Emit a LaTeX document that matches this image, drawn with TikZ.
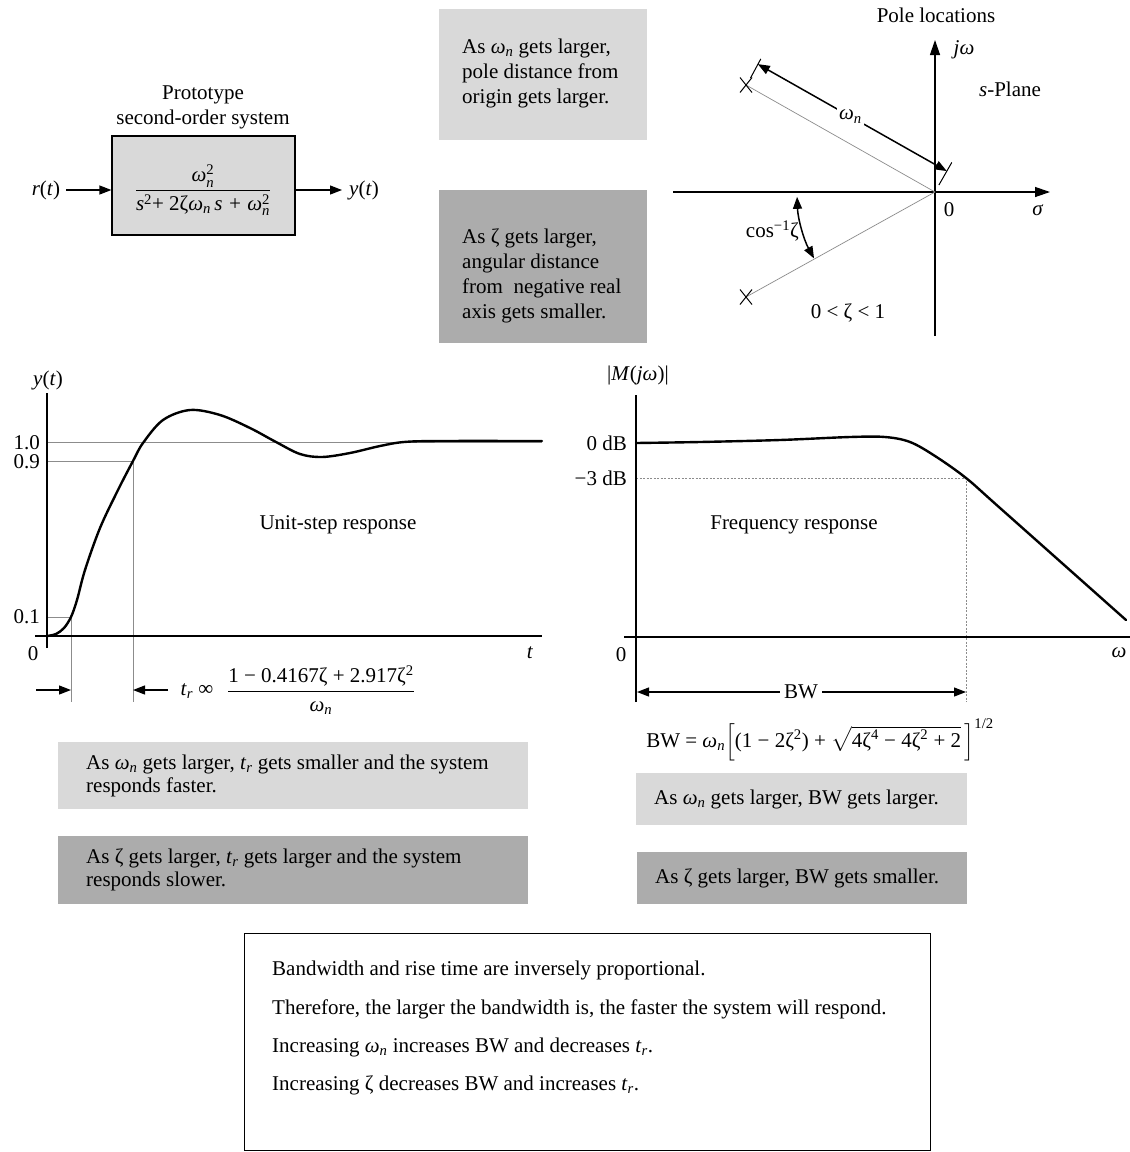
\documentclass[tikz,border=0pt]{standalone}
\usepackage{amsmath}
\usepackage{fontspec}
\setmainfont{Liberation Serif}
\usetikzlibrary{arrows.meta,calc}

\definecolor{boxlight}{RGB}{217,217,217}
\definecolor{boxdark}{RGB}{172,172,172}
\definecolor{guidegray}{RGB}{140,140,140}

% natural frequency and rise time symbols in running text
\newcommand\wn{\textit{ω}\textsubscript{\textit{n}}}
\newcommand\trise{\textit{t}\textsubscript{\textit{r}}}
\newcommand\wnsq{\text{\itshape ω}^{\text{2}}_{\text{\itshape n}}}

\begin{document}
\begin{tikzpicture}[x=1pt,y=-1pt,
  font=\fontsize{21}{25}\selectfont,
  tri/.style={-{Triangle[length=12pt,width=9pt]}},
  bitri/.style={{Triangle[length=12pt,width=9pt]}-{Triangle[length=12pt,width=9pt]}},
  axisline/.style={line width=1.3pt},
  resp/.style={line width=2.4pt,line join=round,line cap=round},
  guideline/.style={line width=0.8pt,guidegray},
  lightbox/.style={fill=boxlight,inner sep=0pt},
  darkbox/.style={fill=boxdark,inner sep=0pt},
  boxtext/.style={align=left,anchor=west,inner sep=0pt},
  lbl/.style={inner sep=1pt},
  polemark/.style={line width=1pt}]

\fill[white] (0,0) rectangle (1130,1152);
\useasboundingbox (0,0) rectangle (1130,1152);

% ---------- prototype second-order system ----------
\node[draw,line width=1.2pt,fill=boxlight,minimum width=183pt,minimum height=99pt,inner sep=0pt] (plant) at (203.5,185.5) {};
\node (tf) at (203,190) {$\dfrac{\wnsq}{\text{\itshape s}^{\text{2}}\text{+ 2ζ}\text{\itshape ω}_{\text{\itshape n}}\,\text{\itshape s + }\wnsq}$};
\node[align=center,anchor=south,inner sep=0pt] (plantcap) at (203,129) {Prototype\\second-order system};
\node[lbl] (rin) at (46,190) {\textit{r}(\textit{t})};
\node[lbl] (yout) at (364,190) {\textit{y}(\textit{t})};
\draw[line width=1.2pt,tri] ([xshift=5pt]rin.east) -- (rin.east -| plant.west);
\draw[line width=1.2pt,tri] (plant.east |- yout.west) -- ([xshift=-6pt]yout.west);

% ---------- notes on the pole locations ----------
\node[lightbox,minimum width=208pt,minimum height=131pt] (wnpole) at (543,74.5) {};
\node[boxtext] (wnpoletext) at (462,73) {As \wn{} gets larger,\\pole distance from\\origin gets larger.};
\node[darkbox,minimum width=208pt,minimum height=153pt] (zpole) at (543,266.5) {};
\node[boxtext] (zpoletext) at (462,276) {As ζ gets larger,\\angular distance\\from\ \ negative real\\axis gets smaller.};

% ---------- s-plane ----------
\coordinate (O) at (935,192);
\coordinate (sigL) at (673,192);
\coordinate (sigR) at (1050,192);
\coordinate (jwB) at (935,336);
\coordinate (jwT) at (935,40);
\coordinate (p1) at (746,85);
\coordinate (p2) at (746,297);
\draw[axisline,-{Triangle[length=15pt,width=10pt]}] (sigL) -- (sigR);
\draw[axisline,-{Triangle[length=15pt,width=10pt]}] (jwB) -- (jwT);
\node[lbl] (jwlab) at (964,50) {\textit{jω}};
\node[lbl] (splane) at (1010,89) {\textit{s}-Plane};
\node[lbl] (poleloc) at (936,15) {Pole locations};
\node[lbl] (zero) at (949,210) {0};
\node[lbl] (sigma) at (1038,210) {\textit{σ}};
\draw[guideline,line width=0.7pt] (O) -- (p1);
\draw[guideline,line width=0.7pt] (O) -- (p2);
\draw[polemark] ($(p1)+(-6,-7.5)$) -- ($(p1)+(6,7.5)$) ($(p1)+(6,-7.5)$) -- ($(p1)+(-6,7.5)$);
\draw[polemark] ($(p2)+(-6,-7.5)$) -- ($(p2)+(6,7.5)$) ($(p2)+(6,-7.5)$) -- ($(p2)+(-6,7.5)$);
% dimension line for the natural frequency
\coordinate (wnA) at (946.8,171.1);
\coordinate (wnB) at (757.8,64.1);
\draw[line width=1pt] (938.9,185.0) -- (951.8,162.4);
\draw[line width=1pt] (750.5,78.0) -- (760.8,58.9);
\draw[line width=1.5pt,bitri] (wnB) -- (wnA);
\node[fill=white,inner sep=2pt] (wnlab) at ($(wnA)!0.51!(wnB)$) {\textit{ω}\textsubscript{\textit{n}}};
% damping angle
\draw[line width=1.5pt,bitri] ([shift={(182:138pt)}]O) arc[start angle=182,end angle=208.8,radius=138pt];
\node[lbl,anchor=east] (coslab) at (800,231) {cos\textsuperscript{−1}ζ};
\node[lbl] (zrange) at (848,313) {0 < ζ < 1};

% ---------- unit-step response ----------
\coordinate (tyB) at (47,648);
\coordinate (tyT) at (47,393);
\coordinate (ttL) at (35,636);
\coordinate (ttR) at (542,636);
\draw[guideline] (47,442) -- (542,442);
\draw[guideline] (47,461) -- (133,461);
\draw[guideline] (47,617) -- (71,617);
\draw[guideline] (71,617) -- (71,702);
\draw[guideline] (133,461) -- (133,702);
\draw[axisline] (tyB) -- (tyT);
\draw[axisline] (ttL) -- (ttR);
\draw[resp] plot[smooth,tension=0.55] coordinates {(47,636) (56,634) (64,628) (71,617) (77,600) (85,570) (100,528) (118,490) (133,461) (143,443) (163,420) (190,410) (220,415) (250,428) (276,442) (300,454) (322,457) (350,453) (380,446) (404,442) (440,441) (542,441)};
\node[lbl,anchor=east] (y10) at (41,443) {1.0};
\node[lbl,anchor=east] (y09) at (41,462) {0.9};
\node[lbl,anchor=east] (y01) at (41,617) {0.1};
\node[lbl] (y00) at (33,654) {0};
\node[lbl] (ylab) at (48,380) {\textit{y}(\textit{t})};
\node[lbl] (tlab) at (530,653) {\textit{t}};
\node[lbl] (steplab) at (338,525) {Unit-step response};
\coordinate (riseA) at (71,690);
\coordinate (riseB) at (133,690);
\draw[line width=1.2pt,tri] (36,690) -- (riseA);
\draw[line width=1.2pt,tri] (168,690) -- (riseB);
\node[lbl] (trlab) at (197,691) {\trise{} ∞};
\node[lbl] (trfrac) at (321,690) {$\dfrac{\text{1 − 0.4167ζ + 2.917ζ\textsuperscript{2}}}{\text{\wn}}$};

% ---------- frequency response ----------
\coordinate (myB) at (636,702);
\coordinate (myT) at (636,395);
\coordinate (mwL) at (624,637);
\coordinate (mwR) at (1130,637);
\draw[guideline,dash pattern=on 2pt off 1.5pt] (636,478) -- (966,478) -- (966,702);
\draw[axisline] (myB) -- (myT);
\draw[axisline] (mwL) -- (mwR);
\draw[resp] plot[smooth,tension=0.55] coordinates {(636,443) (700,442) (780,440) (850,437) (885,437) (910,442) (935,456) (966,478) (1000,508) (1126,620)};
\node[lbl,anchor=east] (db0) at (628,443) {0 dB};
\node[lbl,anchor=east] (db3) at (628,478) {−3 dB};
\node[lbl] (w0) at (621,655) {0};
\node[lbl] (wlab) at (1119,653) {\textit{ω}};
\node[lbl] (mlab) at (638,375) {|\textit{M}(\textit{jω})|};
\node[lbl] (freqlab) at (794,525) {Frequency response};
\coordinate (bwL) at (637,692);
\coordinate (bwR) at (966,692);
\draw[line width=1.2pt,bitri] (bwL) -- (bwR);
\node[fill=white,inner sep=4pt] (bwlab) at (801,692) {BW};
\node[lbl] (bwform) at (820,740) {$\text{BW = \wn}\Big[\text{(1 − 2ζ\textsuperscript{2}) + }\sqrt{\text{4ζ\textsuperscript{4} − 4ζ\textsuperscript{2} + 2}}\,\Big]^{\text{1/2}}$};

% ---------- notes on the responses ----------
\node[lightbox,minimum width=470pt,minimum height=67pt] (trwn) at (293,775.5) {};
\node[boxtext,font=\fontsize{21}{23}\selectfont] (trwntext) at (86,775.5) {As \wn{} gets larger, \trise{} gets smaller and the system\\responds faster.};
\node[darkbox,minimum width=470pt,minimum height=68pt] (trz) at (293,870) {};
\node[boxtext,font=\fontsize{21}{23}\selectfont] (trztext) at (86,870) {As ζ gets larger, \trise{} gets larger and the system\\responds slower.};
\node[lightbox,minimum width=331pt,minimum height=52pt] (bwwn) at (801.5,799) {};
\node[boxtext] (bwwntext) at (654,799) {As \wn{} gets larger, BW gets larger.};
\node[darkbox,minimum width=330pt,minimum height=52pt] (bwz) at (802,878) {};
\node[boxtext] (bwztext) at (655,878) {As ζ gets larger, BW gets smaller.};

% ---------- summary ----------
\node[draw,line width=1pt,minimum width=686pt,minimum height=217pt,inner sep=0pt] (summary) at (587,1041.5) {};
\node[anchor=base west,inner sep=0pt] (s1) at (272,975) {Bandwidth and rise time are inversely proportional.};
\node[anchor=base west,inner sep=0pt] (s2) at (272,1014) {Therefore, the larger the bandwidth is, the faster the system will respond.};
\node[anchor=base west,inner sep=0pt] (s3) at (272,1052) {Increasing \wn{} increases BW and decreases \trise.};
\node[anchor=base west,inner sep=0pt] (s4) at (272,1090) {Increasing ζ decreases BW and increases \trise.};
\end{tikzpicture}
\end{document}
